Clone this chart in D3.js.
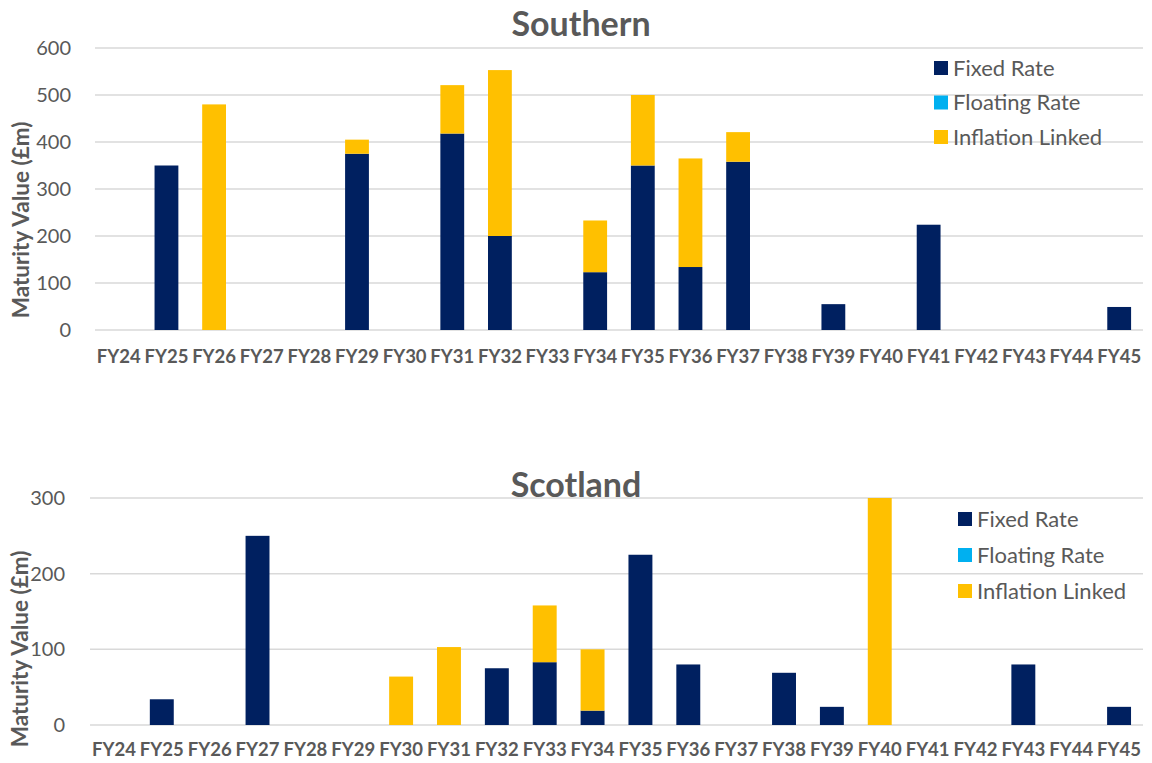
<!DOCTYPE html>
<html>
<head>
<meta charset="utf-8">
<script src="https://cdn.jsdelivr.net/npm/d3@7"></script>
<style>
  html, body { margin: 0; padding: 0; background: #ffffff; }
  svg { display: block; font-family: Lato, "Open Sans", sans-serif; }
</style>
</head>
<body>
<svg id="chart" width="1152" height="763"></svg>
<script>
// Financial years on the x axis (shared by both panels)
const years = ["FY24","FY25","FY26","FY27","FY28","FY29","FY30","FY31","FY32","FY33","FY34",
               "FY35","FY36","FY37","FY38","FY39","FY40","FY41","FY42","FY43","FY44","FY45"];

const seriesNames = ["Fixed Rate", "Floating Rate", "Inflation Linked"];
const seriesColors = ["#002060", "#00B0F0", "#FFC000"];

// Southern maturities (£m)
const southernFixed     = [0, 350, 0, 0, 0, 375, 0, 418, 200, 0, 123, 350, 134, 358, 0, 55, 0, 224, 0, 0, 0, 49];
const southernFloating  = [0, 0, 0, 0, 0, 0, 0, 0, 0, 0, 0, 0, 0, 0, 0, 0, 0, 0, 0, 0, 0, 0];
const southernInflation = [0, 0, 480, 0, 0, 30, 0, 103, 353, 0, 110, 150, 231, 63, 0, 0, 0, 0, 0, 0, 0, 0];
const southernTicks = [0, 100, 200, 300, 400, 500, 600];

// Scotland maturities (£m)
const scotlandFixed     = [0, 34, 0, 250, 0, 0, 0, 0, 75, 83, 19, 225, 80, 0, 69, 24, 0, 0, 0, 80, 0, 24];
const scotlandFloating  = [0, 0, 0, 0, 0, 0, 0, 0, 0, 0, 0, 0, 0, 0, 0, 0, 0, 0, 0, 0, 0, 0];
const scotlandInflation = [0, 0, 0, 0, 0, 0, 64, 103, 0, 75, 81, 0, 0, 0, 0, 0, 300, 0, 0, 0, 0, 0];
const scotlandTicks = [0, 100, 200, 300];

const svg = d3.select("#chart");
const grey = "#595959";

function drawPanel(cfg) {
  const rows = years.map((y, i) => ({
    year: y,
    "Fixed Rate": cfg.fixed[i],
    "Floating Rate": cfg.floating[i],
    "Inflation Linked": cfg.inflation[i]
  }));
  const stacked = d3.stack().keys(seriesNames)(rows);

  const x = d3.scaleBand().domain(years).range([cfg.left, cfg.right]).paddingInner(0.5).paddingOuter(0.25);
  const y = d3.scaleLinear().domain([0, cfg.max]).range([cfg.bottom, cfg.top]);

  const g = svg.append("g");

  // horizontal gridlines
  g.append("g").selectAll("line").data(cfg.ticks).join("line")
    .attr("x1", cfg.left).attr("x2", cfg.right)
    .attr("y1", d => y(d)).attr("y2", d => y(d))
    .attr("stroke", "#d9d9d9").attr("stroke-width", 1.5);

  // y axis labels
  const yAxis = d3.axisLeft(y).tickValues(cfg.ticks).tickSize(0).tickPadding(0);
  const ya = g.append("g").attr("transform", `translate(${cfg.yLabelX},0)`).call(yAxis);
  ya.select(".domain").remove();
  ya.selectAll("text").attr("fill", grey).attr("font-size", 20).attr("font-family", "Lato, sans-serif");

  // stacked bars
  g.append("g").selectAll("g").data(stacked).join("g")
    .attr("fill", (d, i) => seriesColors[i])
    .selectAll("rect").data(d => d.filter(p => p[1] - p[0] > 0)).join("rect")
    .attr("x", d => x(d.data.year))
    .attr("width", x.bandwidth())
    .attr("y", d => y(d[1]))
    .attr("height", d => y(d[0]) - y(d[1]));

  // x axis labels
  const xAxis = d3.axisBottom(x).tickSize(0).tickPadding(0);
  const xa = g.append("g").attr("transform", `translate(0,${cfg.xLabelY})`).call(xAxis);
  xa.select(".domain").remove();
  xa.selectAll("text").attr("fill", grey).attr("font-size", 18.5).attr("font-weight", "bold")
    .attr("font-family", "Lato, sans-serif");

  // title
  g.append("text").attr("x", cfg.titleX).attr("y", cfg.titleY)
    .attr("text-anchor", "middle").attr("fill", grey)
    .attr("font-size", 34).attr("font-weight", "bold").text(cfg.title);

  // y axis title
  g.append("text")
    .attr("transform", `translate(${cfg.yTitleX},${cfg.yTitleY}) rotate(-90)`)
    .attr("text-anchor", "middle").attr("fill", grey)
    .attr("font-size", 22.5).attr("font-weight", "bold").text("Maturity Value (£m)");

  // legend
  const lg = g.append("g").attr("transform", `translate(${cfg.legendX},${cfg.legendY})`);
  const item = lg.selectAll("g").data(seriesNames).join("g")
    .attr("transform", (d, i) => `translate(0,${i * cfg.legendStep})`);
  item.append("rect").attr("x", 0).attr("y", -7).attr("width", 14).attr("height", 14)
    .attr("fill", (d, i) => seriesColors[i]);
  item.append("text").attr("x", 19).attr("y", 0).attr("dy", "0.35em")
    .attr("fill", grey).attr("font-size", 22).text(d => d);
}

drawPanel({
  title: "Southern", titleX: 581, titleY: 36,
  fixed: southernFixed, floating: southernFloating, inflation: southernInflation,
  max: 600, ticks: southernTicks,
  left: 95, right: 1143, top: 48, bottom: 330,
  yLabelX: 71, xLabelY: 350,
  yTitleX: 29, yTitleY: 220,
  legendX: 934, legendY: 68, legendStep: 34.5
});

drawPanel({
  title: "Scotland", titleX: 576, titleY: 497,
  fixed: scotlandFixed, floating: scotlandFloating, inflation: scotlandInflation,
  max: 300, ticks: scotlandTicks,
  left: 90, right: 1143, top: 498, bottom: 725,
  yLabelX: 65, xLabelY: 743,
  yTitleX: 28, yTitleY: 649,
  legendX: 958, legendY: 519, legendStep: 36
});
</script>
</body>
</html>
